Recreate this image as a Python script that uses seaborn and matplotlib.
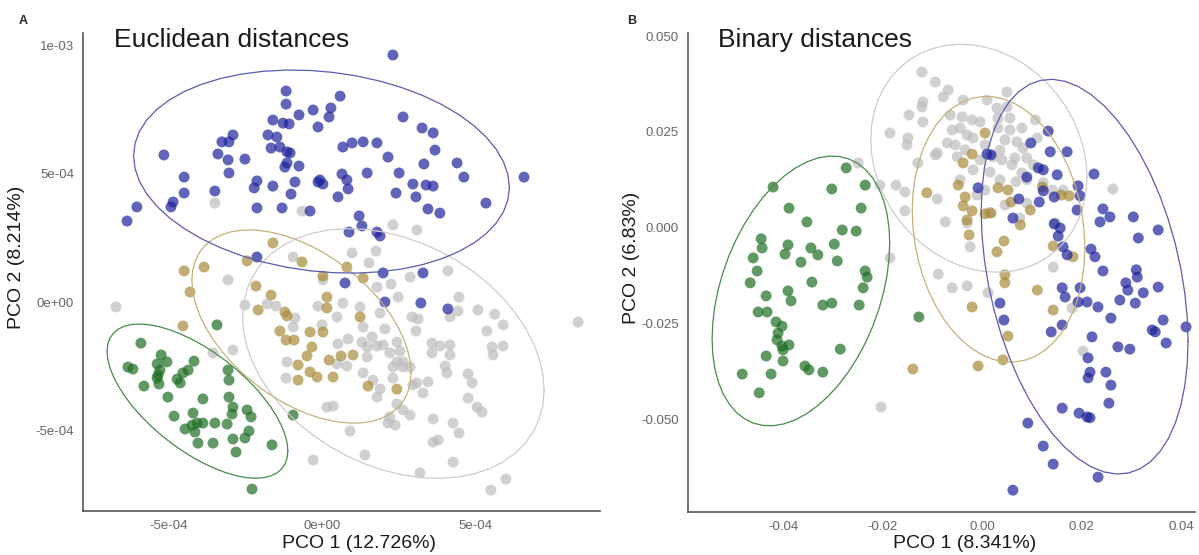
import numpy as np
import pandas as pd
import matplotlib
matplotlib.use("Agg")
import matplotlib.pyplot as plt
import seaborn as sns

# PCoA scores. Euclidean panel in units of 1e-4, binary panel in units of 1e-3.
euclid_blue = [(-1.17,8.21),(-1.17,7.70),(-0.75,7.28),(-0.29,7.47),(-1.60,7.08),(-1.27,6.96),(-1.07,6.93),(-0.13,6.81),
    (-2.90,6.50),(-3.26,6.23),(-3.03,6.23),(-1.76,6.50),(-1.47,6.42),(-1.66,5.99),(-1.37,6.03),(-1.14,5.84),(-1.04,5.80),
    (-5.15,5.72),(-3.39,5.76),(-3.06,5.53),(-2.51,5.56),(-1.14,5.41),(-1.21,5.25),(-0.75,5.29),(-3.03,5.02),(-4.49,4.86),
    (-2.12,4.71),(-2.21,4.44),(-1.60,4.51),(-0.88,4.67),(-0.13,4.67),(-4.49,4.24),(-3.49,4.32),(-1.01,4.20),(-4.85,3.89),
    (-6.03,3.70),(-4.92,3.70),(-2.12,3.66),(-1.30,3.66),(-0.39,3.54),(-6.35,3.15),(-2.12,1.75),(2.31,9.61),(0.59,8.01),
    (0.29,7.55),(0.23,7.20),(2.64,7.20),(3.26,6.77),(3.62,6.58),(3.68,5.91),(0.68,6.03),(0.98,6.19),(1.34,6.23),(1.79,6.19),
    (2.15,5.64),(4.40,5.41),(4.62,4.86),(3.32,5.37),(2.51,5.02),(1.47,5.02),(0.65,4.98),(0.81,4.75),(-0.07,4.75),(0.03,4.59),
    (2.96,4.59),(3.39,4.55),(3.62,4.51),(0.85,4.40),(0.52,4.09),(2.41,4.24),(3.06,4.09),(6.58,4.86),(5.34,3.85),(3.45,3.62),
    (3.84,3.46),(1.21,3.35),(1.30,2.96),(1.79,2.72),(1.89,2.57),(0.88,2.72),(1.99,1.13),(3.29,1.13),(0.75,0.74),(2.05,0.00),
    (3.22,-0.04),(4.10,-0.27)]
euclid_green = [(-3.42,-0.89),(-5.90,-1.60),(-5.24,-2.06),(-5.05,-2.33),(-5.37,-2.41),(-4.17,-2.30),(-4.36,-2.65),
    (-4.53,-2.76),(-6.32,-2.53),(-6.16,-2.61),(-3.06,-2.65),(-3.03,-3.04),(-5.34,-2.84),(-5.31,-3.19),(-4.72,-3.00),
    (-4.62,-3.15),(-5.80,-3.27),(-5.02,-3.70),(-3.88,-3.77),(-3.03,-3.70),(-2.90,-4.09),(-2.93,-4.36),(-2.44,-4.20),
    (-2.31,-4.47),(-4.82,-4.44),(-4.20,-4.32),(-4.07,-4.71),(-4.23,-4.79),(-3.88,-4.71),(-3.49,-4.71),(-3.09,-4.75),
    (-4.46,-4.94),(-4.14,-5.06),(-2.38,-5.02),(-2.51,-5.29),(-2.90,-5.33),(-4.04,-5.49),(-3.55,-5.49),(-1.63,-5.56),
    (-2.80,-5.84),(-0.94,-4.40),(-2.28,-7.28),(-5.28,-2.65),(-5.37,-2.96)]
euclid_tan = [(-1.60,2.30),(-2.44,1.60),(-0.65,1.56),(-4.49,1.21),(-3.84,1.36),(-4.30,0.39),(-2.15,0.62),(-1.66,0.27),
    (-2.08,-0.31),(-1.21,-0.39),(-1.14,-0.54),(0.16,0.19),(0.16,-0.23),(0.03,1.01),(-4.53,-0.93),(-1.37,-1.13),
    (-1.17,-1.48),(-0.91,-1.48),(-0.39,-1.17),(0.03,-1.17),(-0.33,-1.75),(-0.49,-2.10),(-0.78,-2.45),(-0.39,-2.72),
    (-0.78,-3.04),(-0.16,-2.92),(0.23,-2.26),(0.62,-2.10),(1.01,-2.06),(0.36,-2.92),(1.24,-0.58),(1.34,0.93),
    (1.50,-3.27),(2.44,-3.39),(0.81,1.36)]
euclid_grey = [(-3.49,3.85),(-0.65,3.54),(-0.94,1.75),(2.31,3.00),(3.09,2.80),(1.76,1.98),(0.98,1.91),(1.53,1.52),
    (4.10,1.21),(2.87,0.97),(2.25,0.70),(1.79,0.58),(2.48,0.19),(4.46,0.19),(-3.06,0.86),(0.03,0.86),(-2.51,-0.12),
    (-1.79,-0.08),(-1.50,-0.16),(-6.71,-0.19),(-0.13,-0.16),(0.68,-0.04),(1.24,-0.19),(-0.88,-0.62),(-0.94,-0.97),
    (0.49,-0.58),(0.00,-0.89),(1.34,-0.97),(1.89,-0.43),(2.93,-0.58),(3.13,-0.66),(4.17,-0.58),(4.43,-0.35),(5.08,-0.31),
    (5.63,-0.47),(5.90,-0.89),(5.37,-1.13),(2.05,-1.05),(3.06,-1.13),(1.63,-1.36),(1.30,-1.56),(0.85,-1.44),(0.52,-1.63),
    (1.47,-1.75),(1.79,-1.71),(1.99,-1.67),(2.44,-1.56),(2.54,-1.91),(3.58,-1.60),(3.84,-1.71),(4.17,-1.67),(3.58,-1.98),
    (4.17,-2.06),(5.54,-1.75),(5.90,-1.71),(5.57,-2.06),(2.21,-1.98),(2.44,-2.33),(2.64,-2.33),(0.49,-2.41),(0.81,-2.49),
    (1.34,-2.76),(1.66,-3.04),(2.31,-2.53),(2.64,-2.53),(4.01,-2.49),(4.07,-2.76),(4.76,-2.80),(4.89,-3.15),(2.31,-2.96),
    (3.09,-3.15),(3.45,-3.11),(3.29,-3.54),(1.89,-3.39),(1.79,-3.70),(4.76,-3.74),(5.05,-4.09),(5.21,-4.28),(0.36,-4.05),
    (0.16,-4.09),(2.44,-3.97),(2.87,-4.40),(2.21,-4.47),(2.38,-4.79),(3.62,-4.55),(4.27,-4.71),(4.46,-5.10),(3.62,-5.45),
    (0.91,-5.02),(1.40,-5.95),(-0.29,-6.15),(4.27,-6.23),(3.19,-6.65),(5.99,-6.89),(5.50,-7.32),(8.34,-0.78),(-1.14,-2.33),
    (-1.17,-2.96),(-2.90,-1.87),(-3.55,-1.98),(2.64,-4.20),(2.15,-4.71),(3.78,-5.37),(1.47,-2.14),(2.87,-2.53),(2.96,-3.23)]

binary_green = [(-27.3,15.6),(-42.0,10.6),(-30.2,10.1),(-23.5,11.1),(-38.8,5.1),(-24.3,5.1),(-35.2,1.5),(-28.1,-0.6),
    (-25.3,-0.9),(-44.4,-2.9),(-39.0,-4.5),(-34.4,-5.3),(-29.7,-4.3),(-44.2,-5.3),(-46.0,-7.9),(-39.6,-6.9),(-33.0,-7.1),
    (-36.4,-9.0),(-29.1,-8.7),(-45.2,-11.3),(-23.5,-11.3),(-23.1,-12.9),(-46.6,-14.4),(-34.2,-14.2),(-23.9,-15.7),
    (-39.0,-16.5),(-38.4,-19.1),(-43.4,-17.8),(-32.0,-20.2),(-30.2,-19.7),(-24.7,-20.2),(-45.0,-22.0),(-43.2,-22.0),
    (-41.4,-24.6),(-40.2,-25.7),(-41.0,-27.5),(-41.2,-29.3),(-40.2,-30.9),(-38.8,-30.6),(-40.0,-31.9),(-40.0,-34.8),
    (-43.4,-33.5),(-28.5,-31.7),(-35.6,-36.1),(-34.8,-37.1),(-32.0,-37.7),(-48.2,-38.2),(-42.4,-38.2),(-44.8,-43.1),
    (-12.7,-23.3)]
binary_blue = [(13.3,25.2),(9.8,22.1),(17.1,19.8),(13.7,19.8),(1.0,19.2),(1.8,19.0),(11.3,15.6),(12.3,15.1),(15.1,13.8),
    (22.5,14.0),(9.0,13.2),(-0.8,10.4),(19.3,10.9),(19.7,8.3),(12.3,9.6),(7.4,7.5),(11.5,6.7),(14.5,8.0),(19.1,4.6),
    (6.2,2.5),(24.3,4.9),(25.7,2.8),(23.7,1.5),(30.4,2.8),(14.5,1.0),(15.7,-0.1),(15.3,-2.2),(35.4,-0.6),(31.4,-2.7),
    (16.3,-5.0),(17.1,-7.1),(21.9,-5.6),(22.7,-7.6),(24.3,-11.3),(31.0,-11.0),(31.2,-12.9),(28.9,-14.4),(29.3,-16.3),
    (35.4,-15.5),(32.4,-17.0),(16.1,-15.7),(19.7,-15.7),(16.7,-18.1),(19.3,-19.4),(21.1,-19.4),(23.3,-20.7),(27.7,-18.9),
    (30.8,-19.7),(3.6,-19.7),(4.4,-24.1),(16.1,-25.4),(13.9,-27.2),(25.9,-23.6),(22.1,-28.5),(36.4,-24.1),(34.2,-26.7),
    (34.8,-27.2),(41.0,-25.9),(37.0,-30.1),(27.3,-31.1),(29.7,-31.7),(21.3,-34.0),(21.7,-37.7),(21.3,-39.2),(24.9,-37.7),
    (25.9,-41.1),(25.5,-45.8),(16.1,-47.1),(19.5,-48.4),(21.1,-49.4),(21.7,-49.6),(9.2,-51.0),(12.3,-57.0),(14.3,-61.7),
    (23.3,-65.1),(6.2,-68.5)]
binary_tan = [(0.6,24.7),(-2.0,19.2),(-3.8,16.9),(-4.8,11.1),(-11.1,9.1),(-3.4,8.0),(-3.8,5.7),(-2.0,4.4),(0.6,3.6),
    (1.8,3.8),(3.2,10.4),(5.2,9.8),(5.8,6.7),(15.9,8.5),(17.5,8.3),(-2.6,-1.9),(4.4,-3.5),(14.3,-4.8),(-3.0,2.0),
    (3.0,-6.3),(18.3,-7.6),(4.6,-12.3),(4.6,-14.4),(11.1,-16.3),(-2.0,-20.7),(14.3,-21.5),(5.2,-28.3),(4.2,-34.5),
    (-0.8,-36.1),(-13.9,-36.9),(7.7,0.7),(9.7,4.6),(12.1,10.6)]
binary_grey = [(-12.1,40.6),(-9.4,38.0),(-6.8,35.9),(-7.8,34.1),(-11.9,32.8),(-12.1,31.5),(-14.7,29.4),(-11.9,27.6),
    (-18.5,24.7),(-14.9,23.4),(-15.1,21.6),(-12.9,16.9),(-9.0,19.5),(-3.8,33.3),(1.0,33.3),(5.0,35.4),(5.0,31.5),(3.0,31.2),
    (-6.4,29.4),(-4.0,28.9),(-2.0,28.1),(-0.4,27.6),(3.2,28.6),(5.6,28.6),(-6.0,25.5),(-4.4,26.0),(-3.0,24.2),(-1.8,23.4),
    (-7.0,22.1),(-5.4,21.6),(3.2,26.0),(5.6,25.5),(8.0,26.0),(10.7,28.1),(4.6,22.9),(7.0,22.4),(8.2,20.8),(11.1,23.4),
    (-9.4,19.0),(-5.0,18.5),(2.2,18.5),(4.0,17.7),(6.6,18.2),(9.0,18.2),(-1.8,15.1),(1.6,14.5),(3.6,12.5),(8.0,14.3),
    (9.0,12.5),(12.3,11.7),(9.0,6.4),(14.1,9.8),(16.3,9.8),(-20.5,11.1),(-17.3,11.1),(-15.5,9.3),(-9.0,7.5),(-15.5,4.4),
    (-7.4,1.5),(-3.0,1.2),(7.6,2.5),(14.7,1.2),(-2.4,-5.0),(26.3,10.1),(14.3,-10.3),(-8.8,-12.1),(-24.9,16.9),(-18.5,-7.9),
    (-3.0,-15.2),(1.2,-17.0),(-6.0,-15.7),(20.3,-32.2),(18.1,-21.0),(-20.3,-46.8),
    (3.6,20.2),(0.6,21.6),(6.0,16.4),(10.3,16.4),(1.5,4.0),(-3.4,20.3),(-0.4,17.7),(-4.4,12.5),(0.6,9.8),(4.6,5.9),
    (-1.0,8.5),(6.8,12.0)]

group_order = ["grey", "tan", "green", "blue"]
point_colors = {"blue": "#1e229c", "green": "#1e6e23", "tan": "#a88a3a", "grey": "#bdbdbd"}
ellipse_colors = {"blue": "#5a5cb0", "green": "#4a8a4a", "tan": "#c4b27a", "grey": "#cdcdcd"}


def scores_frame(groups, unit):
    rows = []
    for name in group_order:
        for x, y in groups[name]:
            rows.append((x * unit, y * unit, name))
    return pd.DataFrame(rows, columns=["PCO1", "PCO2", "group"])


def robust_t_cov(x, nu=5, maxit=25, tol=0.01):
    # multivariate t estimate of location and scatter (as MASS::cov.trob)
    n, p = x.shape
    wt = np.ones(n)
    loc = x.mean(axis=0)
    w = np.sqrt(wt)
    for _ in range(maxit):
        w0 = w
        X = x - loc
        _, d, vt = np.linalg.svd(np.sqrt(w / w.sum())[:, None] * X, full_matrices=False)
        wX = X @ vt.T @ np.diag(1.0 / d)
        Q = (wX ** 2).sum(axis=1)
        w = wt * (nu + p) / (nu + Q)
        loc = (w[:, None] * x).sum(axis=0) / w.sum()
        if np.all(np.abs(w - w0) < tol):
            break
    sX = np.sqrt(w)[:, None] * X
    return loc, sX.T @ sX / wt.sum()


def confidence_ellipse(x, level=0.95, segments=51):
    n = len(x)
    center, shape = robust_t_cov(x)
    dfd = n - 1
    fq = dfd / 2.0 * ((1 - level) ** (-2.0 / dfd) - 1)
    radius = np.sqrt(2 * fq)
    t = np.linspace(0, 2 * np.pi, segments)
    circle = np.column_stack([np.cos(t), np.sin(t)])
    L = np.linalg.cholesky(shape)
    return center + radius * circle @ L.T


def draw_panel(ax, df, title):
    sns.scatterplot(data=df, x="PCO1", y="PCO2", hue="group", palette=point_colors,
                    s=62, alpha=0.7, linewidth=0, legend=False, ax=ax, zorder=2)
    for name in group_order:
        pts = df.loc[df.group == name, ["PCO1", "PCO2"]].to_numpy()
        ell = confidence_ellipse(pts)
        ax.plot(ell[:, 0], ell[:, 1], color=ellipse_colors[name], lw=0.9, zorder=3)
    ax.set_xlabel("")
    ax.set_ylabel("")
    for side in ("top", "right"):
        ax.spines[side].set_visible(False)
    for side in ("left", "bottom"):
        ax.spines[side].set_color("#555555")
        ax.spines[side].set_linewidth(1.2)
    ax.tick_params(axis="both", colors="#555555", labelcolor="#666666", labelsize=9.5,
                   length=3, width=0.8, direction="out")
    ax.text(0.06, 0.985, title, transform=ax.transAxes, fontsize=19, color="#1a1a1a",
            ha="left", va="center")


sns.set_theme(style="white")
plt.rcParams["font.family"] = ["Liberation Sans", "DejaVu Sans"]

W, H = 1199, 555
fig = plt.figure(figsize=(W / 100, H / 100), dpi=100)

def box(l, r, t, b):
    return [l / W, 1 - b / H, (r - l) / W, (b - t) / H]

axA = fig.add_axes(box(83, 600, 33, 511))
axB = fig.add_axes(box(688, 1195, 33, 512))

dfA = scores_frame({"blue": euclid_blue, "green": euclid_green, "tan": euclid_tan, "grey": euclid_grey}, 1e-4)
dfB = scores_frame({"blue": binary_blue, "green": binary_green, "tan": binary_tan, "grey": binary_grey}, 1e-3)

draw_panel(axA, dfA, "Euclidean distances")
draw_panel(axB, dfB, "Binary distances")

axA.set_xlim(-7.785e-4, 9.055e-4)
axA.set_ylim(-8.132e-4, 1.0467e-3)
axA.set_xticks([-5e-4, 0, 5e-4], ["-5e-04", "0e+00", "5e-04"])
axA.set_yticks([-5e-4, 0, 5e-4, 1e-3], ["-5e-04", "0e+00", "5e-04", "1e-03"])

axB.set_xlim(-0.0591, 0.0428)
axB.set_ylim(-0.0742, 0.0508)
axB.set_xticks([-0.04, -0.02, 0, 0.02, 0.04], ["-0.04", "-0.02", "0.00", "0.02", "0.04"])
axB.set_yticks([-0.05, -0.025, 0, 0.025, 0.05], ["-0.050", "-0.025", "0.000", "0.025", "0.050"])

def ftext(x, y, s, **kw):
    fig.text(x / W, 1 - y / H, s, **kw)

ftext(23, 21, "A", fontsize=9, fontweight="bold", ha="center", va="center")
ftext(632, 21, "B", fontsize=9, fontweight="bold", ha="center", va="center")
ftext(359, 544, "PCO 1 (12.726%)", fontsize=14, ha="center", va="center", color="#1a1a1a")
ftext(965, 544, "PCO 1 (8.341%)", fontsize=14, ha="center", va="center", color="#1a1a1a")
ftext(17, 257, "PCO 2 (8.214%)", fontsize=14, ha="center", va="center", rotation=90, color="#1a1a1a")
ftext(632, 258, "PCO 2 (6.83%)", fontsize=14, ha="center", va="center", rotation=90, color="#1a1a1a")

fig.savefig("out.png", dpi=100, facecolor="white")
